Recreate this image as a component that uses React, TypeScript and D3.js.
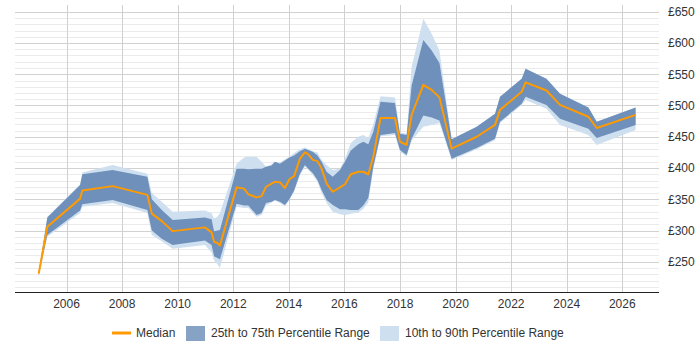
import React from "react";
import * as d3 from "d3";

// Sample dates (decimal years) and salary percentiles in £
const years = [2005.0, 2005.31, 2006.49, 2006.57, 2007.66, 2008.91, 2009.07, 2009.43, 2009.82, 2010.98, 2011.22, 2011.31, 2011.43, 2011.52, 2012.12, 2012.39, 2012.54, 2012.84, 2013.02, 2013.18, 2013.38, 2013.5, 2013.68, 2013.86, 2014.02, 2014.19, 2014.4, 2014.58, 2014.7, 2014.86, 2015.03, 2015.18, 2015.36, 2015.58, 2015.84, 2016.02, 2016.23, 2016.5, 2016.68, 2016.86, 2017.04, 2017.3, 2017.82, 2018.0, 2018.24, 2018.42, 2018.84, 2019.14, 2019.42, 2019.86, 2020.76, 2021.42, 2021.6, 2022.38, 2022.52, 2023.27, 2023.76, 2024.78, 2025.08, 2026.48];

const median = [231, 306, 351, 364, 371, 357, 327, 315, 299, 305, 297, 282, 280, 276, 369, 367, 358, 353, 355, 370, 375, 378, 377, 368, 382, 387, 415, 425, 422, 413, 411, 399, 375, 362, 369, 374, 390, 394, 394, 390, 418, 480, 480, 442, 437, 485, 533, 525, 513, 431, 450, 469, 493, 522, 537, 524, 501, 482, 464, 485];

const p75 = [233, 321, 373, 390, 397, 386, 350, 333, 317, 321, 318, 299, 300, 301, 399, 399, 398, 399, 399, 402, 404, 410, 407, 412, 417, 420, 427, 431, 429, 426, 420, 410, 394, 386, 397, 410, 428, 438, 442, 438, 458, 506, 504, 455, 453, 532, 605, 588, 568, 446, 466, 487, 514, 543, 559, 543, 519, 497, 474, 497];

const p25 = [229, 293, 332, 342, 349, 333, 300, 287, 277, 284, 277, 259, 256, 254, 343, 340, 340, 325, 328, 344, 346, 349, 346, 341, 350, 364, 391, 405, 399, 392, 381, 365, 349, 341, 334, 334, 333, 333, 340, 352, 402, 453, 456, 429, 421, 447, 484, 481, 476, 415, 432, 447, 474, 503, 514, 501, 479, 463, 448, 469];

const p90 = [234, 322, 374, 393, 405, 391, 360, 346, 330, 332, 328, 319, 322, 328, 407, 417, 418, 418, 410, 402, 406, 410, 409, 414, 418, 424, 430, 433, 430, 427, 425, 413, 405, 397, 399, 415, 440, 450, 453, 448, 470, 515, 513, 457, 455, 562, 639, 615, 588, 446, 466, 487, 514, 543, 559, 543, 519, 497, 474, 497];

const p10 = [226, 290, 328, 338, 344, 328, 293, 283, 271, 277, 265, 252, 246, 240, 338, 336, 336, 322, 325, 340, 345, 348, 344, 339, 349, 362, 388, 402, 397, 389, 378, 360, 344, 330, 326, 325, 327, 329, 335, 345, 398, 451, 453, 426, 419, 444, 466, 469, 472, 413, 430, 445, 472, 501, 509, 495, 469, 453, 437, 461];

const xTicks = [2006, 2008, 2010, 2012, 2014, 2016, 2018, 2020, 2022, 2024, 2026];
const yTicks = [250, 300, 350, 400, 450, 500, 550, 600, 650];

const legendItems = ["Median", "25th to 75th Percentile Range", "10th to 90th Percentile Range"];

const FONT = "'Liberation Sans', Arial, sans-serif";

export default function App() {
  const left = 15;
  const right = 659;
  const top = 5;
  const bottom = 292.5;

  const x = d3.scaleLinear().domain([2006, 2026]).range([66.5, 622.3]);
  const y = d3.scaleLinear().domain([200, 660]).range([293, 5.5]);

  const idx = d3.range(years.length);

  const outerArea = d3
    .area<number>()
    .x((i) => x(years[i]))
    .y0((i) => y(p10[i]))
    .y1((i) => y(p90[i]));

  const innerArea = d3
    .area<number>()
    .x((i) => x(years[i]))
    .y0((i) => y(p25[i]))
    .y1((i) => y(p75[i]));

  const medianLine = d3
    .line<number>()
    .x((i) => x(years[i]))
    .y((i) => y(median[i]));

  const gridValues = d3.range(210, 651, 10);

  return (
    <svg
      width={700}
      height={350}
      style={{ position: "absolute", left: 0, top: 0, background: "#fff" }}
      fontFamily={FONT}
    >
      {/* horizontal grid */}
      {gridValues.map((v) => (
        <line
          key={"h" + v}
          x1={left}
          x2={right}
          y1={Math.round(y(v)) + 0.5}
          y2={Math.round(y(v)) + 0.5}
          stroke={v % 50 === 0 ? "#d2d2d2" : "#ebebeb"}
          strokeWidth={1}
        />
      ))}
      {/* vertical grid */}
      {xTicks.map((t) => (
        <line
          key={"v" + t}
          x1={Math.round(x(t)) + 0.5}
          x2={Math.round(x(t)) + 0.5}
          y1={top}
          y2={bottom}
          stroke="#d0d0d0"
          strokeWidth={1}
        />
      ))}

      <path d={outerArea(idx) ?? ""} fill="#cedff0" stroke="none" />
      <path d={innerArea(idx) ?? ""} fill="#6e90ba" stroke="none" />
      <path d={medianLine(idx) ?? ""} fill="none" stroke="#ff9a00" strokeWidth={2} strokeLinejoin="round" />

      {/* x axis */}
      <line x1={left} x2={right} y1={bottom} y2={bottom} stroke="#222" strokeWidth={1} />
      {xTicks.map((t) => (
        <text key={"xt" + t} x={x(t)} y={308} fontSize={12} fill="#333" textAnchor="middle">
          {t}
        </text>
      ))}

      {/* y labels */}
      {yTicks.map((v) => (
        <text key={"yt" + v} x={668} y={y(v) + 4.3} fontSize={12} fill="#333" textAnchor="start">
          {"£" + v}
        </text>
      ))}

      {/* legend */}
      <g fontSize={12} fill="#333">
        <line x1={112} x2={131} y1={333} y2={333} stroke="#ff9a00" strokeWidth={3} />
        <text x={136} y={337.3}>{legendItems[0]}</text>
        <rect x={186} y={326} width={19} height={15} fill="#86a3c6" />
        <text x={211} y={337.3}>{legendItems[1]}</text>
        <rect x={380} y={326} width={19} height={15} fill="#cedff0" />
        <text x={405} y={337.3}>{legendItems[2]}</text>
      </g>
    </svg>
  );
}
